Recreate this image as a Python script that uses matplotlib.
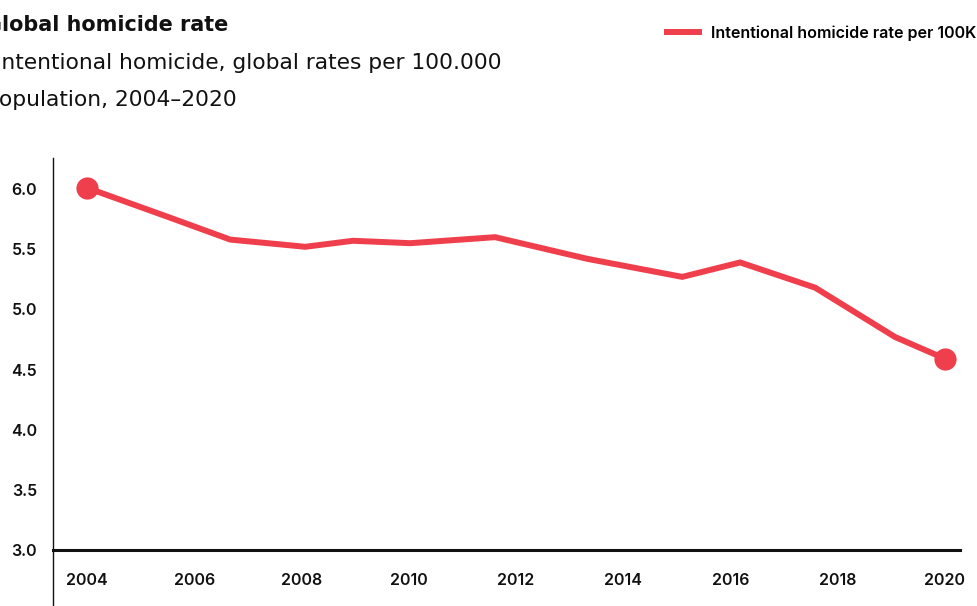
import matplotlib
matplotlib.use("Agg")
import matplotlib.pyplot as plt
from matplotlib.lines import Line2D

# Global intentional homicide rate per 100,000 population
years = [2004.0, 2005.5, 2006.67, 2008.07, 2008.96, 2010.03, 2011.61,
         2013.33, 2015.1, 2016.18, 2017.58, 2019.07, 2020.0]
rates = [6.01, 5.77, 5.58, 5.52, 5.57, 5.55, 5.60,
         5.42, 5.27, 5.39, 5.18, 4.77, 4.59]
x_ticks = [2004, 2006, 2008, 2010, 2012, 2014, 2016, 2018, 2020]
y_ticks = [3.0, 3.5, 4.0, 4.5, 5.0, 5.5, 6.0]

TITLE = "Global homicide rate"
SUB1 = "Intentional homicide, global rates per 100.000"
SUB2 = "population, 2004\u20132020"
LEGEND_LABEL = "Intentional homicide rate per 100K"

RED = "#EF3F4C"
INK = "#111111"
UI_FONT = ["Inter", "DejaVu Sans"]
HEAD_FONT = ["DejaVu Sans"]
plt.rcParams["font.family"] = UI_FONT

W, H = 978, 606
fig = plt.figure(figsize=(W / 100, H / 100), dpi=100)
fig.patch.set_facecolor("white")
renderer = fig.canvas.get_renderer()


def fit_size(text, width_px, **kw):
    """Font size at which `text` spans `width_px` pixels."""
    probe = fig.text(0, 0, text, fontsize=10, **kw)
    w = probe.get_window_extent(renderer).width
    probe.remove()
    return 10 * width_px / w


ax = fig.add_axes([53 / W, 1 - 550 / H, (960 - 53) / W, (550 - 158) / H])
ax.set_xlim(2003.366, 2020.28)
ax.set_ylim(3.0, 6.258)

line, = ax.plot(years, rates, color=RED, lw=4.3, solid_joinstyle="miter",
                label=LEGEND_LABEL, zorder=3)
ax.plot([years[0], years[-1]], [rates[0], rates[-1]], "o", color=RED,
        markersize=16, markeredgewidth=0, clip_on=False, zorder=4)

ax.axhline(3.0, color=INK, lw=2.2, zorder=2, clip_on=False)

for s in ["top", "right", "bottom"]:
    ax.spines[s].set_visible(False)
ax.spines["left"].set_color(INK)
ax.spines["left"].set_linewidth(1.0)
# left rule continues below the baseline to the bottom edge
fig.add_artist(Line2D([53 / W, 53 / W], [0, 1 - 550 / H], color=INK, lw=1.0))

ax.set_xticks(x_ticks)
ax.set_xticklabels([str(t) for t in x_ticks])
ax.set_yticks(y_ticks)
ax.set_yticklabels([f"{t:.1f}" for t in y_ticks])
ax.tick_params(axis="both", length=0, labelsize=11.5, labelcolor=INK)
ax.tick_params(axis="x", pad=16.5)
ax.tick_params(axis="y", pad=11.5)
for lab in ax.get_xticklabels() + ax.get_yticklabels():
    lab.set_fontweight("semibold")

# Heading block, right-aligned so the opening letters run off the left edge
title_size = fit_size(TITLE[1:], 226, family=HEAD_FONT, fontweight="bold")
fig.text(228 / W, 1 - 31 / H, TITLE, fontsize=title_size, family=HEAD_FONT,
         fontweight="bold", color=INK, ha="right", va="baseline")

sub_size = fit_size(SUB1[1:], 500, family=HEAD_FONT)
fig.text(502 / W, 1 - 69 / H, SUB1, fontsize=sub_size, family=HEAD_FONT,
         color=INK, ha="right", va="baseline")
fig.text(237 / W, 1 - 106 / H, SUB2, fontsize=sub_size, family=HEAD_FONT,
         color=INK, ha="right", va="baseline")

leg_size = fit_size(LEGEND_LABEL, 264, family=UI_FONT, fontweight="semibold")
fig.legend(handles=[line], loc="center left",
           bbox_to_anchor=(667 / W, 1 - 33 / H), frameon=False,
           borderaxespad=0, borderpad=0, handlelength=2.0, handletextpad=0.75,
           prop={"family": UI_FONT, "weight": "semibold", "size": leg_size})

fig.savefig("out.png", dpi=100, facecolor="white")
